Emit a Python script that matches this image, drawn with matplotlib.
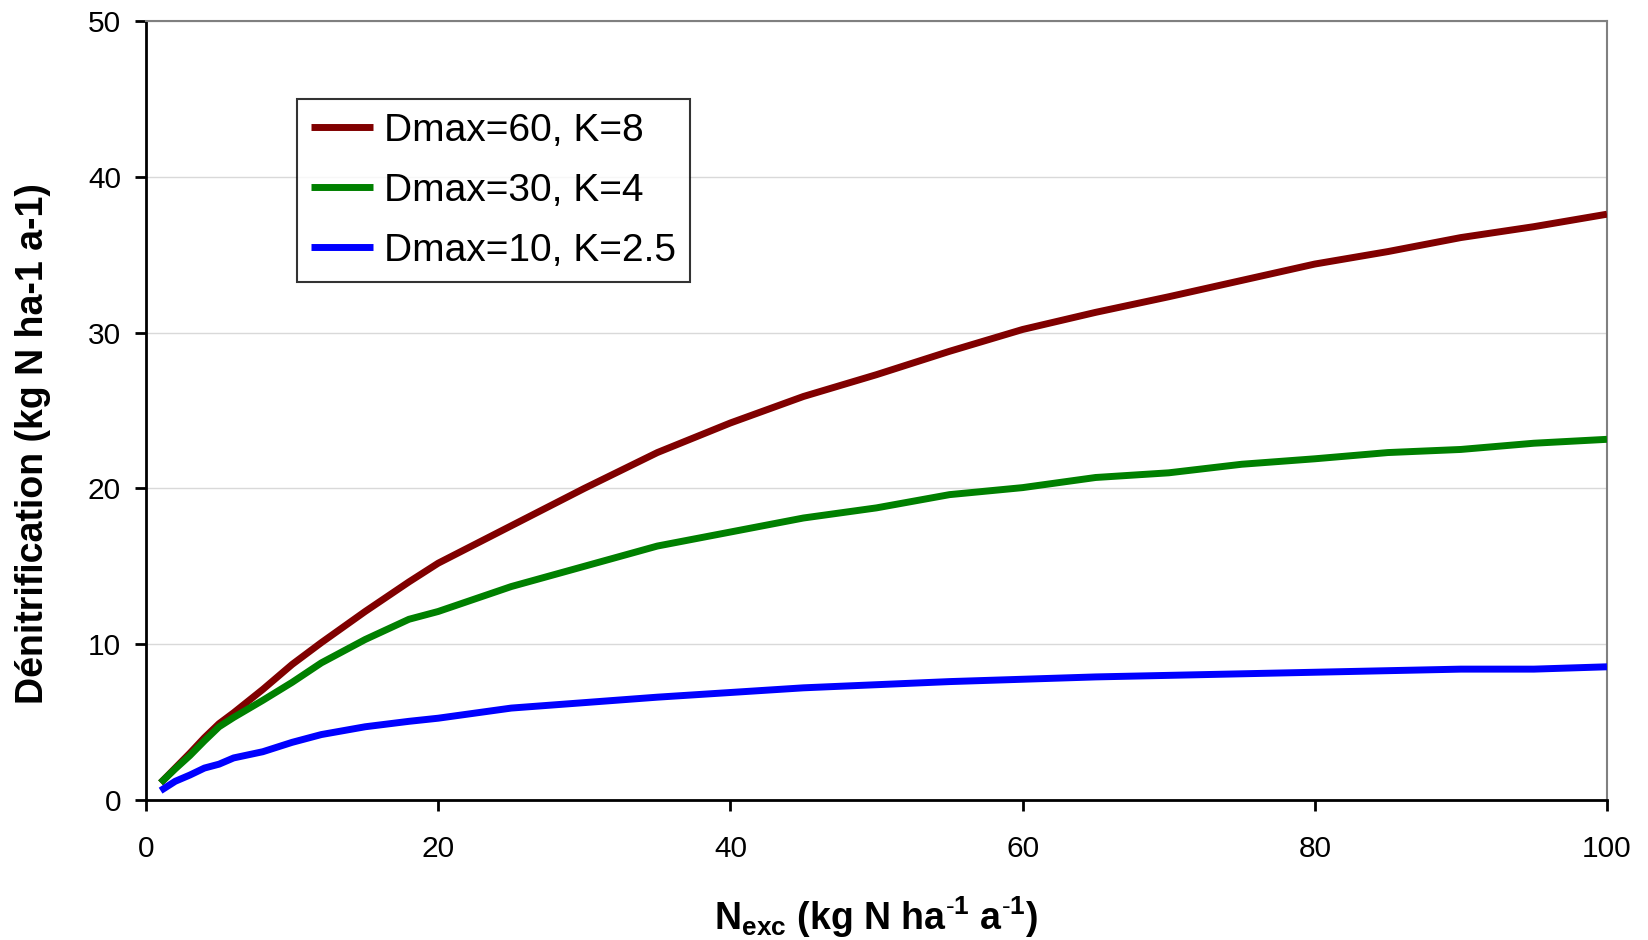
import matplotlib
matplotlib.use('Agg')
import matplotlib.pyplot as plt

# values
n_exc = [1, 2, 3, 4, 5, 6, 8, 10, 12, 15, 18, 20, 25, 30, 35, 40, 45, 50,
         55, 60, 65, 70, 75, 80, 85, 90, 95, 100]
denit_60_8 = [1.1, 2.05, 3.0, 4.0, 4.9, 5.6, 7.1, 8.7, 10.1, 12.1, 14.0, 15.2,
              17.6, 20.0, 22.3, 24.2, 25.9, 27.3, 28.8, 30.2, 31.3, 32.3,
              33.35, 34.4, 35.2, 36.1, 36.8, 37.6]
denit_30_4 = [1.1, 2.0, 2.85, 3.8, 4.7, 5.3, 6.4, 7.55, 8.8, 10.3, 11.6, 12.1,
              13.7, 15.0, 16.3, 17.2, 18.1, 18.75, 19.6, 20.05, 20.7, 21.0,
              21.55, 21.9, 22.3, 22.5, 22.9, 23.15]
denit_10_25 = [0.6, 1.2, 1.6, 2.05, 2.3, 2.7, 3.1, 3.7, 4.2, 4.7, 5.05, 5.25,
               5.9, 6.25, 6.6, 6.9, 7.2, 7.4, 7.6, 7.75, 7.9, 8.0, 8.1, 8.2,
               8.3, 8.4, 8.4, 8.55]
series_labels = ['Dmax=60, K=8', 'Dmax=30, K=4', 'Dmax=10, K=2.5']
series_colors = ['#800000', '#008000', '#0000ff']
x_ticks = [0, 20, 40, 60, 80, 100]
y_ticks = [0, 10, 20, 30, 40, 50]

plt.rcParams['font.family'] = ['Liberation Sans', 'DejaVu Sans']
plt.rcParams['mathtext.fontset'] = 'custom'
plt.rcParams['mathtext.rm'] = 'Liberation Sans'
plt.rcParams['mathtext.bf'] = 'Liberation Sans:bold'

W, H = 1649, 940
fig = plt.figure(figsize=(W / 100, H / 100), dpi=100)
ax = fig.add_axes([146 / W, 1 - 800 / H, (1607 - 146) / W, (800 - 21) / H])

for vals, lab, col in zip([denit_60_8, denit_30_4, denit_10_25], series_labels, series_colors):
    ax.plot(n_exc, vals, color=col, lw=5, label=lab, solid_capstyle='butt', zorder=3)

ax.set_xlim(0, 100)
ax.set_ylim(0, 50)
ax.set_xticks(x_ticks)
ax.set_yticks(y_ticks)
ax.tick_params(axis='both', direction='out', length=8, width=2, color='black',
               labelsize=21.5)
ax.tick_params(axis='x', pad=17)
ax.tick_params(axis='y', pad=10)

ax.grid(axis='y', color='#d9d9d9', lw=1, zorder=0)
ax.set_axisbelow(True)

for side in ['left', 'bottom']:
    ax.spines[side].set_color('black')
    ax.spines[side].set_linewidth(2)
for side in ['top', 'right']:
    ax.spines[side].set_color('#808080')
    ax.spines[side].set_linewidth(1.5)

ax.set_xlabel(r'$\mathbf{N_{exc}}$ (kg N ha$^{\mathbf{\text{-}1}}$ a$^{\mathbf{\text{-}1}}$)',
              fontsize=27, fontweight='bold', labelpad=23)

fig.text(33 / W, 1 - 444 / H, 'Dénitrification (kg N ha-1 a-1)', rotation=90,
         ha='center', va='center', fontsize=27, fontweight='bold',
         family=['Liberation Sans Narrow', 'Liberation Sans', 'DejaVu Sans'])

leg = ax.legend(loc='upper left', bbox_to_anchor=(297 / W, 1 - 99 / H),
                bbox_transform=fig.transFigure, borderaxespad=0, fontsize=28,
                frameon=True, fancybox=False, handlelength=1.6, handletextpad=0.3,
                labelspacing=0.62, borderpad=0.35)
leg.get_frame().set_edgecolor('black')
leg.get_frame().set_linewidth(1.5)
for h in leg.get_lines():
    h.set_linewidth(5)

fig.savefig('out.png', dpi=100)
